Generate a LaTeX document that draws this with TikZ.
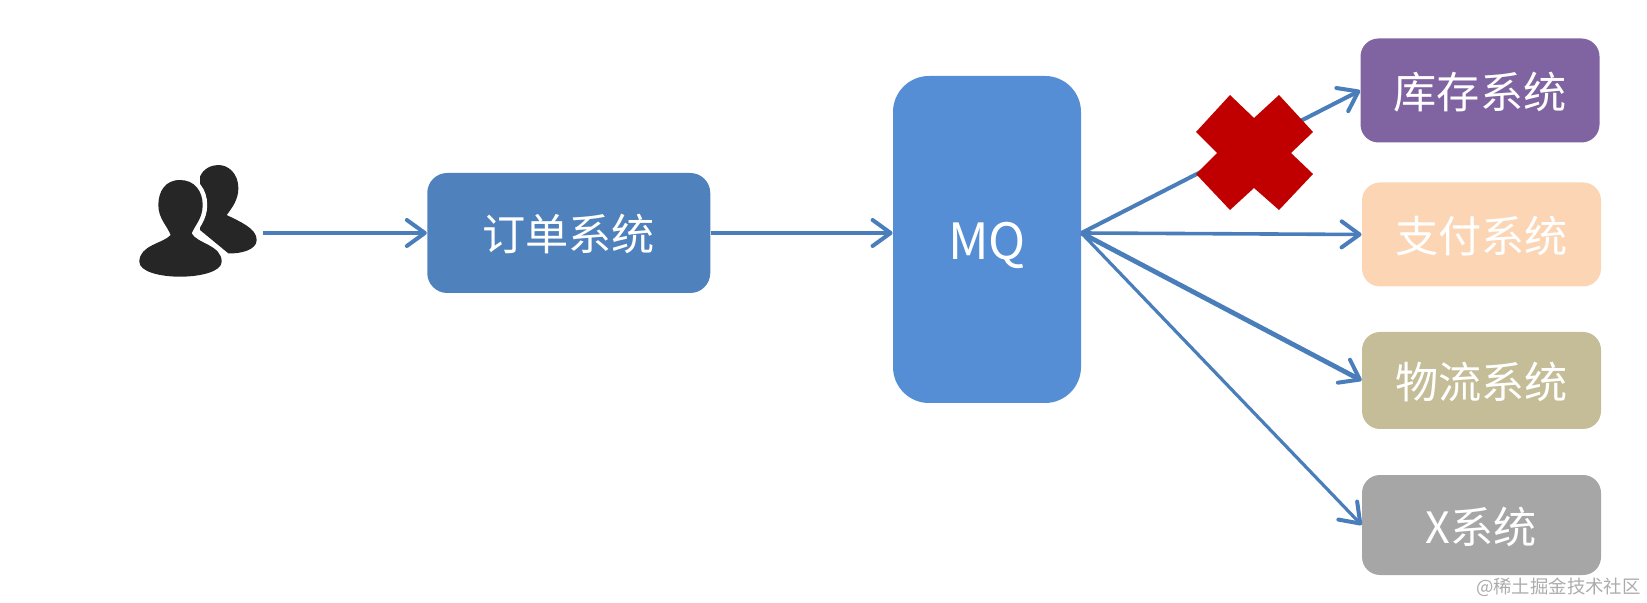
\documentclass[tikz,border=0pt]{standalone}
\usepackage{fontspec}
\setmainfont{Noto Sans CJK SC}
\usetikzlibrary{arrows.meta, positioning}
\definecolor{linecolor}{HTML}{4A7EBB}
\definecolor{ordercolor}{HTML}{4F81BD}
\definecolor{mqcolor}{HTML}{558ED5}
\definecolor{stockcolor}{HTML}{8064A2}
\definecolor{paycolor}{HTML}{FCD5B5}
\definecolor{logisticscolor}{HTML}{C4BD97}
\definecolor{xcolor}{HTML}{A6A6A6}
\definecolor{crosscolor}{HTML}{C00000}
\definecolor{iconcolor}{HTML}{262626}

\begin{document}
\begin{tikzpicture}[
    x=0.5pt, y=-0.5pt,
    block/.style={
        rectangle,
        inner sep=0pt,
        text=white,
        align=center,
        font=\fontsize{21.6}{25}\selectfont,
        text height=21pt,
        text depth=3pt,
        rounded corners=9pt,
        minimum width=119.5pt,
        minimum height=52pt
    },
    line/.style={-{Straight Barb[round,length=9pt,width=13pt,line width=2pt]}, line width=2pt, draw=linecolor}
]
    \useasboundingbox (0,0) rectangle (1647,603);

    \node[block, fill=ordercolor, minimum width=141.5pt, minimum height=60pt, rounded corners=10pt] (order) at (568.75,233) {订单系统};
    \node[block, fill=mqcolor, minimum width=94pt, minimum height=163.5pt, rounded corners=18pt, font=\fontsize{25}{28}\selectfont, text height=20pt, text depth=0pt] (mq) at (987,239.5) {MQ};
    \node[block, fill=stockcolor] (stock) at (1480,90.5) {库存系统};
    \node[block, fill=paycolor] (pay) at (1481.5,234.5) {支付系统};
    \node[block, fill=logisticscolor, minimum height=48.5pt] (logistics) at (1481.5,380.5) {物流系统};
    \node[block, fill=xcolor, minimum height=50pt] (xsys) at (1481.5,525) {X系统};
    \node[anchor=east, inner sep=0pt, text=gray!65, font=\fontsize{9.2}{12}\selectfont] (mark) at (1641,587) {@稀土掘金技术社区};

    % free ends of the connectors
    \coordinate (userout) at (263,233);
    \coordinate (mqout) at (mq.east |- order.east);

    \draw[line] (userout) -- (order.west);
    \draw[line] (order.east) -- (order.east -| mq.west);
    \draw[line] (mqout) -- (stock.west);
    \draw[line, line width=1.8pt] (mqout) -- (pay.west);
    \draw[line, line width=2.4pt] (mqout) -- (logistics.west);
    \draw[line, line width=1.6pt] (mqout) -- (xsys.west);

    % red cross over the first arrow
    \fill[crosscolor] (1230,95) -- (1254,118) -- (1279,95) -- (1313,132) -- (1291,153) -- (1313,174)
        -- (1279,210) -- (1254,188) -- (1230,210) -- (1196,174) -- (1217,153) -- (1196,132) -- cycle;

    % users icon
    \begin{scope}[shift={(100,130)}, x=0.1667pt, y=-0.1667pt]
        \fill[iconcolor] (355,105) .. controls (385,105) and (415,130) .. (415,175)
            .. controls (415,210) and (395,235) .. (380,255)
            .. controls (420,275) and (470,295) .. (470,330)
            .. controls (470,360) and (420,372) .. (385,370)
            -- (300,300) -- (300,140)
            .. controls (310,115) and (335,105) .. (355,105) -- cycle;
        \fill[iconcolor, preaction={draw=white, line width=4.5pt}] (240,150)
            .. controls (195,150) and (175,185) .. (175,225)
            .. controls (175,265) and (200,285) .. (212,315)
            .. controls (190,340) and (118,345) .. (118,395)
            .. controls (118,425) and (180,440) .. (240,440)
            .. controls (300,440) and (365,425) .. (365,395)
            .. controls (365,345) and (290,340) .. (275,310)
            .. controls (285,285) and (308,265) .. (308,225)
            .. controls (308,185) and (285,150) .. (240,150) -- cycle;
    \end{scope}
\end{tikzpicture}
\end{document}
